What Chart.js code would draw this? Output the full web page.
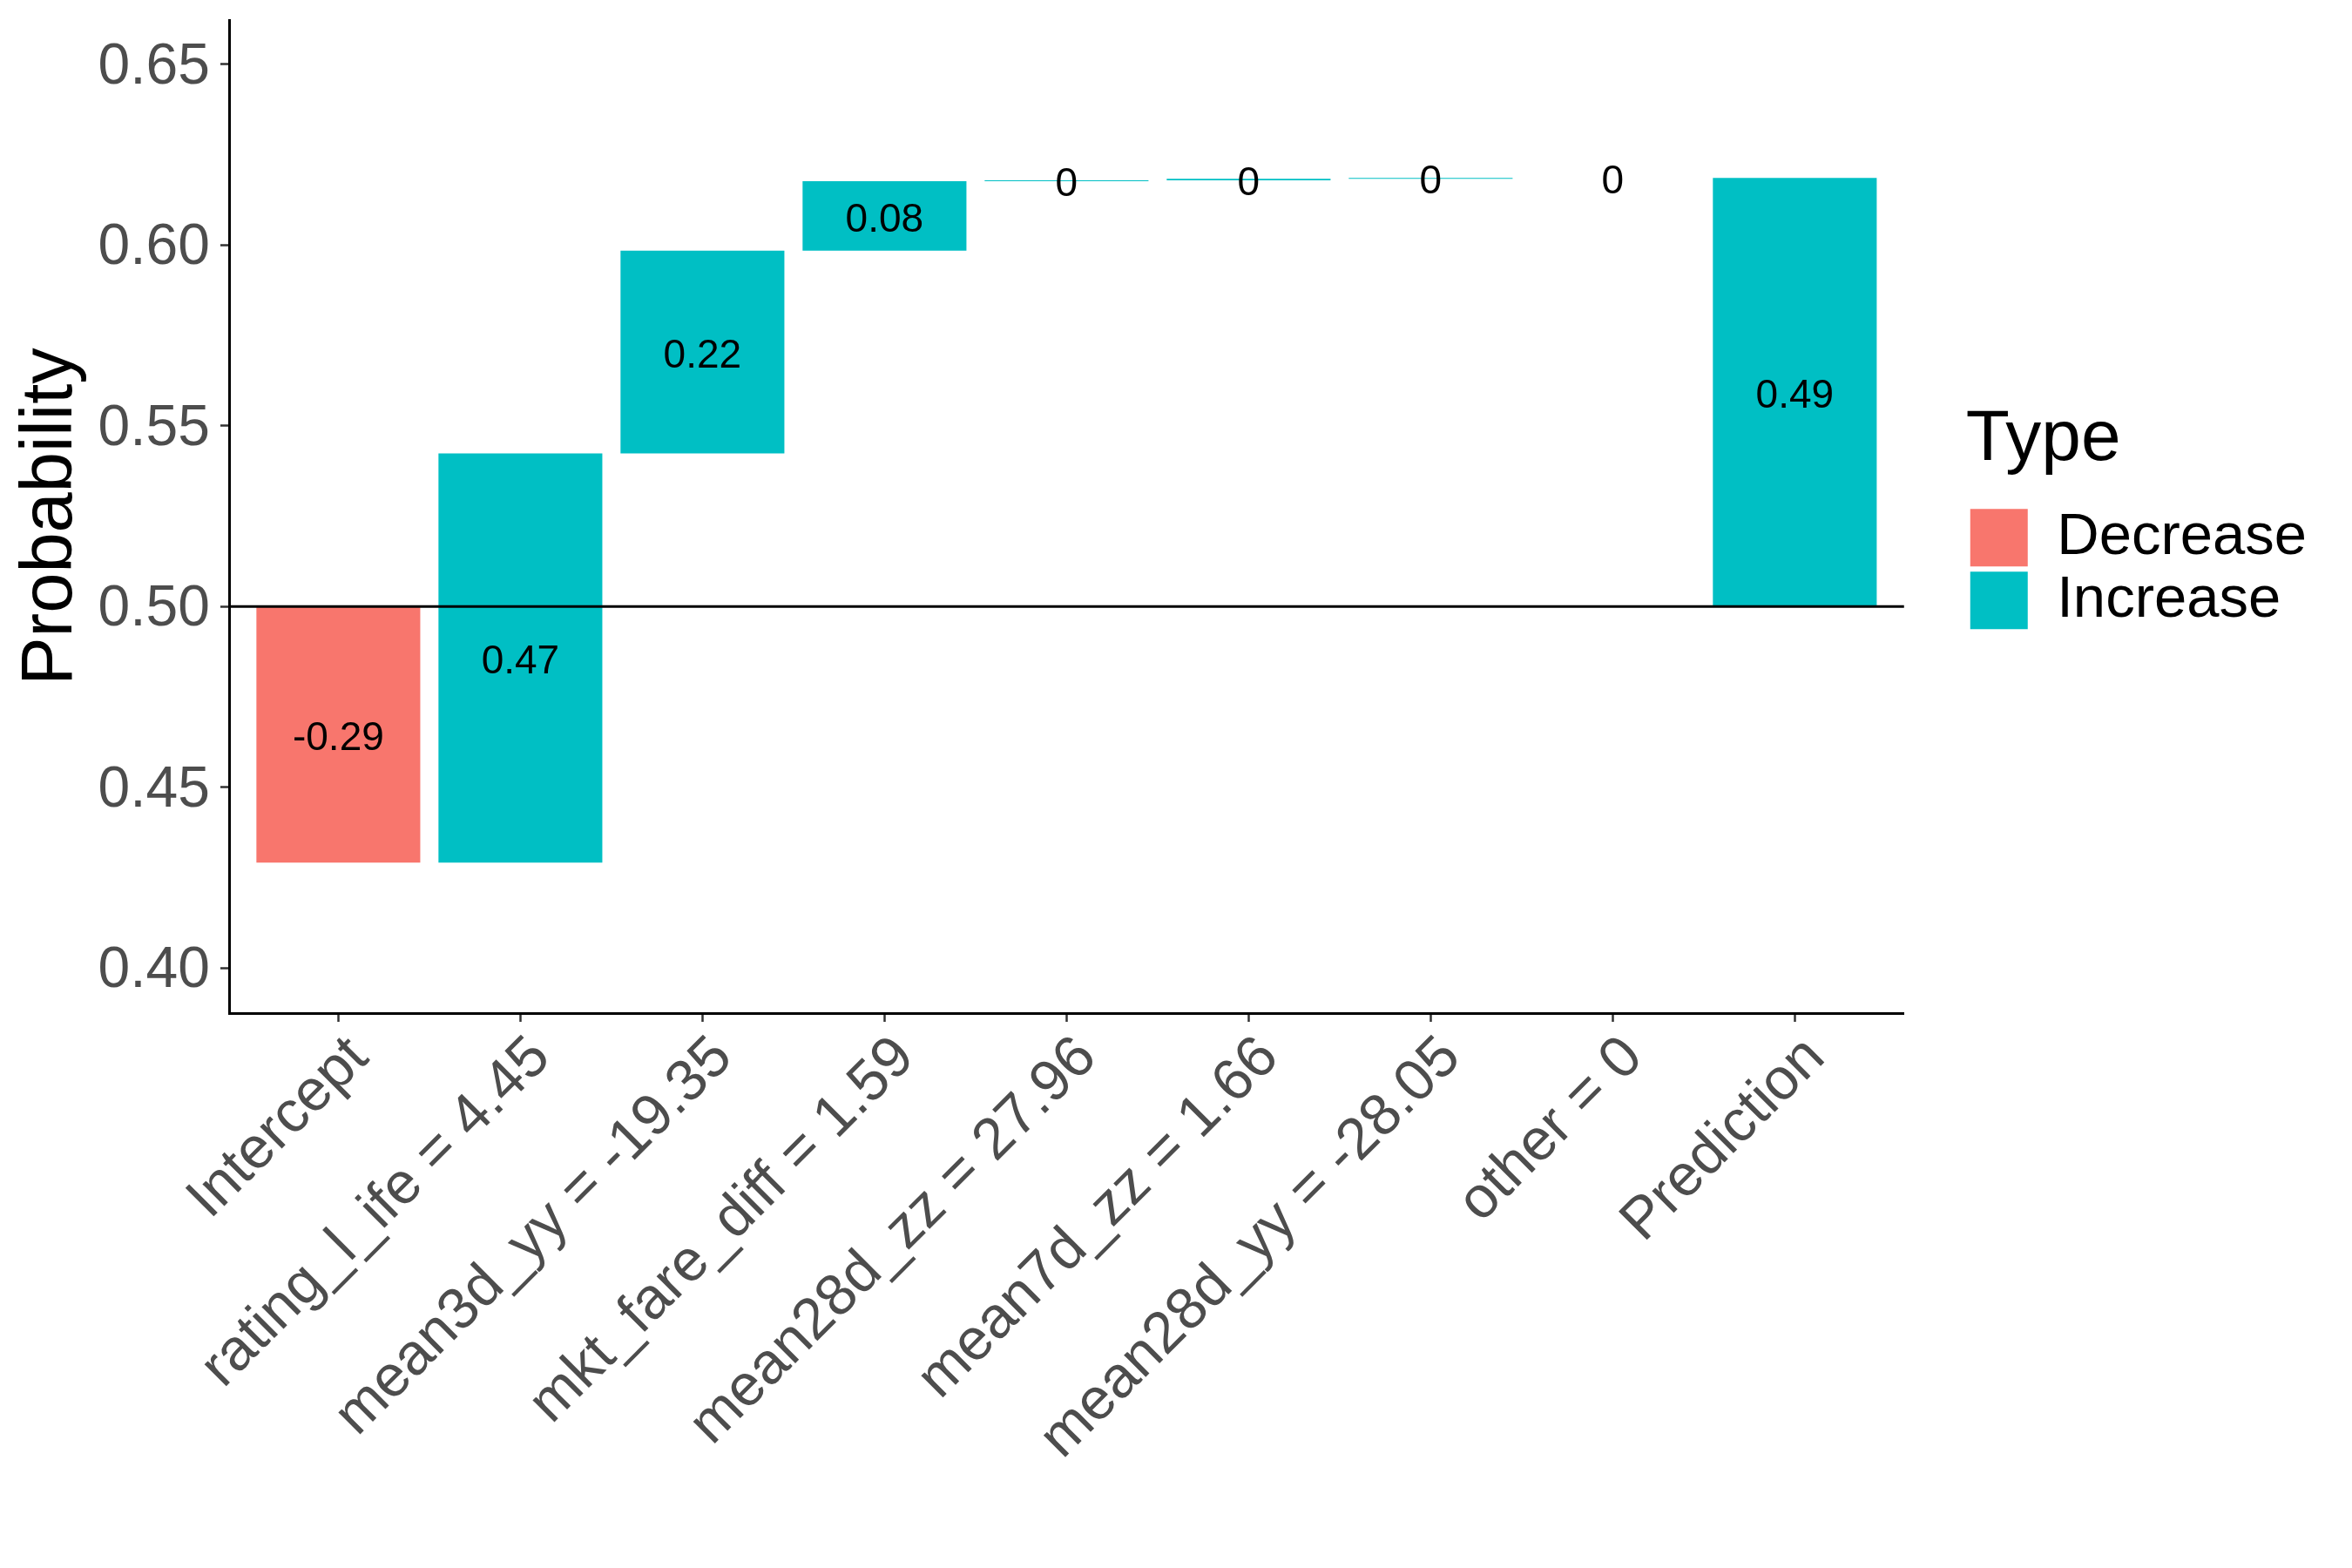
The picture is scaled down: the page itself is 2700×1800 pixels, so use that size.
<!DOCTYPE html>
<html><head><meta charset="utf-8">
<script src="https://cdn.jsdelivr.net/npm/chart.js@4.4.1/dist/chart.umd.min.js"></script>
<style>html,body{margin:0;padding:0;background:#fff;} canvas{display:block;}</style>
</head><body>
<canvas id="c" width="2700" height="1800"></canvas>
<script>
const categories = ["Intercept","rating_l_ife = 4.45","mean3d_yy = -19.35","mkt_fare_diff = 1.59","mean28d_zz = 27.96","mean7d_zz = 1.66","mean28d_yy = -28.05","other = 0","Prediction"];
const types = ["Decrease","Increase","Increase","Increase","Increase","Increase","Increase","Increase","Increase"];
const barLow  = [0.4291, 0.4291, 0.5423, 0.5984, 0.6176, 0.61785, 0.6183, 0.61855, 0.5];
const barHigh = [0.5, 0.5423, 0.5984, 0.6176, 0.61785, 0.6183, 0.61855, 0.61855, 0.61855];
const valueLabels = ["-0.29","0.47","0.22","0.08","0","0","0","0","0.49"];
const yTicks = [0.40, 0.45, 0.50, 0.55, 0.60, 0.65];
const yMin = 0.3875, yMax = 0.6622;
const baseline = 0.5;
const typeNames = ["Decrease","Increase"];
const typeColors = {"Decrease":"#F8766D","Increase":"#00BFC4"};
const FAMILY = "'Liberation Sans', Arial, sans-serif";

const datasets = typeNames.map(t => ({
  label: t,
  backgroundColor: typeColors[t],
  borderColor: typeColors[t],
  borderWidth: 0,
  grouped: false,
  barPercentage: 0.9,
  categoryPercentage: 1.0,
  data: categories.map((c, i) => types[i] === t ? {x: i + 1, y: [barLow[i], barHigh[i]], lbl: valueLabels[i]} : null).filter(d => d)
}));

const overlayPlugin = {
  id: 'overlay',
  afterDatasetsDraw(chart) {
    const ctx = chart.ctx;
    const ys = chart.scales.y;
    const area = chart.chartArea;
    const py = ys.getPixelForValue(baseline);
    ctx.save();
    ctx.strokeStyle = '#000';
    ctx.lineWidth = 3;
    ctx.beginPath();
    ctx.moveTo(area.left, py);
    ctx.lineTo(area.right, py);
    ctx.stroke();
    ctx.fillStyle = '#000';
    ctx.font = "46px " + FAMILY;
    ctx.textAlign = 'center';
    ctx.textBaseline = 'middle';
    chart.data.datasets.forEach((ds, di) => {
      const meta = chart.getDatasetMeta(di);
      meta.data.forEach((el, j) => {
        const d = ds.data[j];
        ctx.fillText(d.lbl, el.x, (el.y + el.base) / 2 + 5);
      });
    });
    ctx.restore();
  }
};

new Chart(document.getElementById('c'), {
  type: 'bar',
  data: { datasets },
  plugins: [overlayPlugin],
  options: {
    responsive: false,
    devicePixelRatio: 1,
    animation: false,
    parsing: { xAxisKey: 'x', yAxisKey: 'y' },
    layout: { padding: { top: 23, right: 42, bottom: 0, left: 0 } },
    plugins: {
      tooltip: { enabled: false },
      legend: {
        position: 'right',
        fullSize: false,
        align: 'center',
        title: { display: true, text: 'Type', position: 'start', color: '#000', font: { size: 82, family: FAMILY }, padding: { top: 6, bottom: 16 } },
        labels: { boxWidth: 66, boxHeight: 66, padding: 5, color: '#000', font: { size: 67, family: FAMILY } }
      }
    },
    scales: {
      x: {
        type: 'linear', min: 0.4, max: 9.6, offset: false,
        afterBuildTicks: s => { s.ticks = categories.map((c, i) => ({ value: i + 1 })); },
        afterFit: s => { s.height = 637; s.paddingLeft = 0; s.paddingRight = 0; },
        grid: { display: true, offset: false, drawOnChartArea: false, drawTicks: true, tickLength: 10, tickColor: '#333333', tickWidth: 2.5 },
        border: { display: true, color: '#000', width: 3 },
        ticks: { autoSkip: false, maxRotation: 45, minRotation: 45, color: '#4D4D4D', font: { size: 67, family: FAMILY }, padding: 2, labelOffset: 24,
          callback: v => categories[Math.round(v) - 1] ?? '' }
      },
      y: {
        min: yMin, max: yMax,
        afterBuildTicks: s => { s.ticks = yTicks.map(v => ({ value: v })); },
        afterFit: s => { s.width = 263; s.paddingTop = 0; s.paddingBottom = 0; },
        grid: { display: true, drawOnChartArea: false, drawTicks: true, tickLength: 10, tickColor: '#333333', tickWidth: 2.5 },
        border: { display: true, color: '#000', width: 3 },
        ticks: { color: '#4D4D4D', font: { size: 66, family: FAMILY }, padding: 12, labelOffset: 4, callback: v => Number(v).toFixed(2) },
        title: { display: true, text: 'Probability', color: '#000', font: { size: 83, family: FAMILY }, padding: { top: 9, bottom: 0 } }
      },
      yPad: {
        position: 'right', display: true,
        grid: { display: false }, border: { display: false }, ticks: { display: false },
        afterFit: s => { s.width = 71; s.paddingTop = 0; s.paddingBottom = 0; }
      }
    }
  }
});
</script>
</body></html>
